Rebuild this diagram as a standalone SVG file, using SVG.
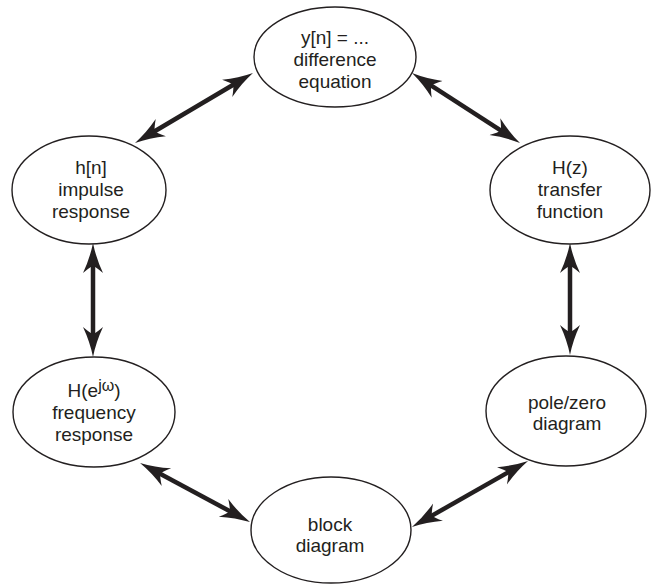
<svg xmlns="http://www.w3.org/2000/svg" width="653" height="584" viewBox="0 0 653 584">
<style>
.node ellipse{fill:#fff;stroke:#231f20;stroke-width:1.4}
.node text{font-family:"Liberation Sans",Arial,sans-serif;font-size:19px;fill:#231f20;text-anchor:middle}
.conn line{stroke:#231f20;stroke-width:4.5;marker-start:url(#ah);marker-end:url(#ah)}
</style>
<defs>
<marker id="ah" markerUnits="userSpaceOnUse" viewBox="0 -11 30 22" markerWidth="30" markerHeight="22" refX="12" refY="0" orient="auto-start-reverse">
<path d="M30,0 Q15,-3 0,-10 Q6,-3 7,0 Q6,3 0,10 Q15,3 30,0 Z" fill="#231f20"/>
</marker>
</defs>
<rect width="653" height="584" fill="#fff"/>
<g id="connectors" class="conn">
<line x1="150.5" y1="133.8" x2="237.5" y2="82.2"/>
<line x1="427.1" y1="82.8" x2="504.9" y2="133.2"/>
<line x1="93" y1="261" x2="93" y2="339"/>
<line x1="570" y1="261" x2="570" y2="337"/>
<line x1="155.9" y1="471.5" x2="234.1" y2="513.5"/>
<line x1="427.6" y1="518.1" x2="512.4" y2="469.9"/>
</g>
<g id="difference" class="node">
<ellipse cx="335" cy="57" rx="81" ry="50"/>
<text x="335" y="44">y[n] = ...</text>
<text x="335" y="66">difference</text>
<text x="335" y="88">equation</text>
</g>
<g id="impulse" class="node">
<ellipse cx="89" cy="190" rx="77" ry="54"/>
<text x="91" y="174">h[n]</text>
<text x="91" y="196">impulse</text>
<text x="91" y="218">response</text>
</g>
<g id="transfer" class="node">
<ellipse cx="570" cy="190" rx="80" ry="54"/>
<text x="570" y="174">H(z)</text>
<text x="570" y="196">transfer</text>
<text x="570" y="218">function</text>
</g>
<g id="frequency" class="node">
<ellipse cx="94" cy="412" rx="81" ry="55"/>
<text x="94" y="397">H(e<tspan font-size="16" dy="-6">jω</tspan><tspan dy="6">)</tspan></text>
<text x="94" y="419">frequency</text>
<text x="94" y="441">response</text>
</g>
<g id="polezero" class="node">
<ellipse cx="566" cy="411" rx="80" ry="55"/>
<text x="567" y="409">pole/zero</text>
<text x="567" y="430">diagram</text>
</g>
<g id="block" class="node">
<ellipse cx="331" cy="530" rx="80" ry="53"/>
<text x="330" y="531">block</text>
<text x="330" y="552">diagram</text>
</g>
</svg>
